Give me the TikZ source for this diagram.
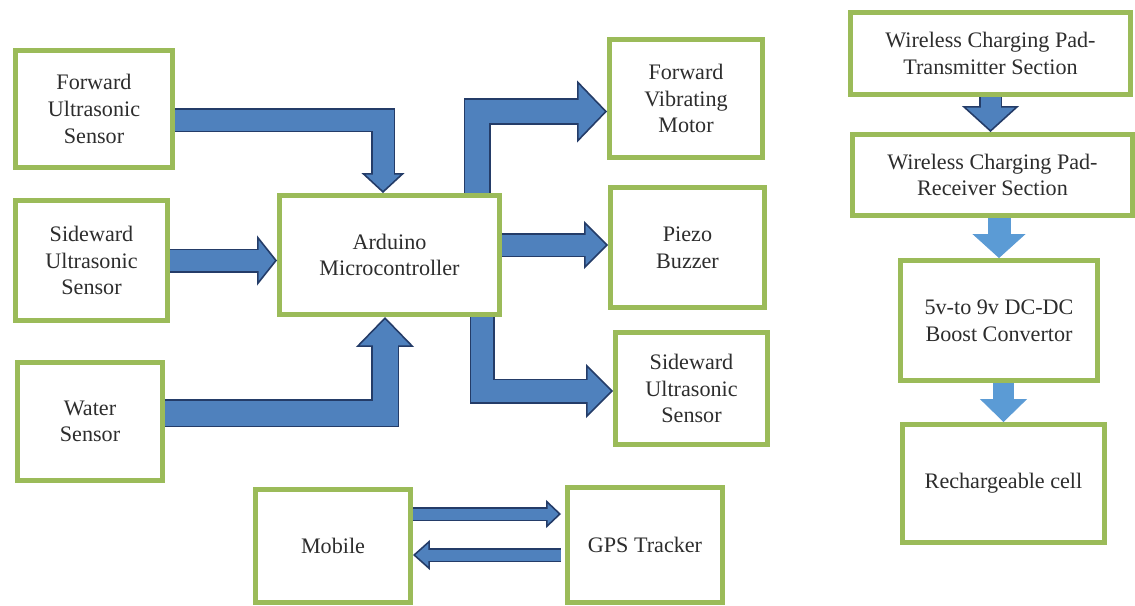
\documentclass[tikz,border=0pt]{standalone}
\usepackage{fontspec}
\setmainfont{Liberation Serif}
\usepackage{xcolor}
\usetikzlibrary{
    arrows.meta,
    calc
}
\definecolor{boxgreen}{RGB}{155,187,89}
\definecolor{ablue}{RGB}{79,129,189}
\definecolor{adark}{RGB}{36,60,104}
\definecolor{lblue}{RGB}{91,155,213}
\definecolor{txtgray}{RGB}{45,45,45}
\tikzset{%
    % Specifications for style of nodes:
    block/.style = {
        rectangle, draw=boxgreen, line width=0.1cm,
        fill=white, text=txtgray, align=center, inner sep=2pt,
        font=\fontsize{12.6}{15.2}\selectfont
    },
    % block arrows: shaft width, head width, head length
    fat/.style n args={3}{
        draw=ablue, line width=#1-0.06cm, line join=miter,
        -{Triangle[width=#2, length=#3, line width=0.9pt, color=adark, fill=ablue]},
        preaction={draw=adark, line width=#1, arrows=-, shorten >=#3-0.03cm},
        postaction={draw=ablue, line width=#1-0.06cm, arrows=-, shorten >=#3-0.12cm}
    },
    lfat/.style n args={3}{
        draw=lblue, line width=#1,
        -{Triangle[width=#2, length=#3, line width=0.5pt, color=lblue]}
    }
}

\begin{document}
\begin{tikzpicture}[x=0.02cm, y=-0.02cm]
\useasboundingbox[fill=white] (0,0) rectangle (1135,605);

% sensors and controller
\node[block, minimum width=3.14cm, minimum height=2.34cm] (fus) at (94,109) {Forward\\Ultrasonic\\Sensor};
\node[block, minimum width=3.04cm, minimum height=2.40cm] (sus) at (91.5,260.5) {Sideward\\Ultrasonic\\Sensor};
\node[block, minimum width=2.90cm, minimum height=2.36cm] (ws) at (90,421.5) {Water\\Sensor};
\node[block, minimum width=4.40cm, minimum height=2.38cm] (ard) at (389.5,255) {Arduino\\Microcontroller};
\node[block, minimum width=3.06cm, minimum height=2.36cm] (fvm) at (686,98.5) {Forward\\Vibrating\\Motor};
\node[block, minimum width=3.08cm, minimum height=2.40cm] (pb) at (687.5,247.5) {Piezo\\Buzzer};
\node[block, minimum width=3.04cm, minimum height=2.24cm] (sur) at (691.5,388.5) {Sideward\\Ultrasonic\\Sensor};
\node[block, minimum width=3.10cm, minimum height=2.26cm] (mob) at (333,546) {Mobile};
\node[block, minimum width=3.10cm, minimum height=2.30cm] (gps) at (645,545) {GPS Tracker};

% charging chain
\node[block, minimum width=5.60cm, minimum height=1.64cm] (tx) at (990.5,53.5) {Wireless Charging Pad-\\Transmitter Section};
\node[block, minimum width=5.60cm, minimum height=1.62cm] (rx) at (992.5,175) {Wireless Charging Pad-\\Receiver Section};
\node[block, minimum width=3.94cm, minimum height=2.40cm] (bst) at (999,320.5) {5v-to 9v DC-DC\\Boost Convertor};
\node[block, minimum width=4.04cm, minimum height=2.36cm] (cell) at (1003.5,483.5) {Rechargeable cell};

\draw[fat={0.48cm}{0.86cm}{0.4cm}] ($(fus.east)+(0,11)$) -| ($(ard.north)+(-6.5,0)$);
\draw[fat={0.48cm}{1.0cm}{0.4cm}] (sus.east) -- (sus.east -| ard.west);
\draw[fat={0.56cm}{1.16cm}{0.6cm}] ($(ws.east)+(0,-8.5)$) -| ($(ard.south)+(-4.5,0)$);
\draw[fat={0.54cm}{1.24cm}{0.6cm}] ($(ard.north)+(87.5,0)$) |- ($(fvm.west)+(0,13)$);
\draw[fat={0.48cm}{0.96cm}{0.48cm}] ($(ard.east)+(0,-10)$) -- ($(ard.east -| pb.west)+(0,-10)$);
\draw[fat={0.5cm}{1.08cm}{0.54cm}] ($(ard.south)+(92.5,0)$) |- ($(sur.west)+(0,2.5)$);
\draw[fat={0.28cm}{0.56cm}{0.3cm}] ($(mob.east)+(0,-32)$) -- ($(mob.east -| gps.west)+(-4,-32)$);
\draw[fat={0.28cm}{0.6cm}{0.34cm}] ($(gps.west)+(-4,10)$) -- ($(gps.west -| mob.east)+(0,10)$);
\draw[fat={0.46cm}{1.14cm}{0.52cm}] (tx.south) -- (tx.south |- rx.north);
\draw[lfat={0.46cm}{1.06cm}{0.48cm}] (bst.north |- rx.south) -- (bst.north);
\draw[lfat={0.42cm}{0.94cm}{0.46cm}] (cell.north |- bst.south) -- (cell.north);
\end{tikzpicture}
\end{document}
